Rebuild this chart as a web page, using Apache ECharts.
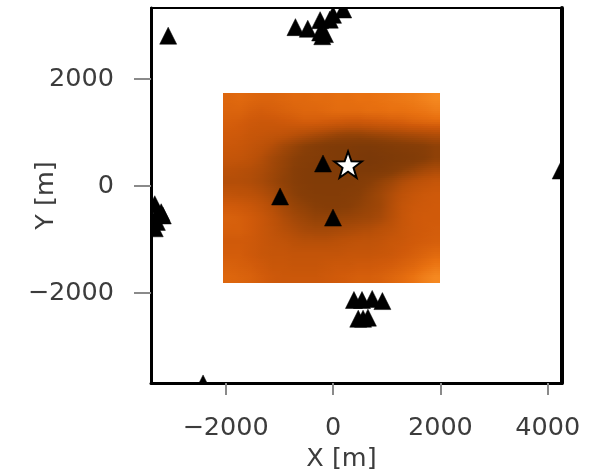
<!DOCTYPE html>
<html><head><meta charset="utf-8">
<script src="https://cdn.jsdelivr.net/npm/echarts@6/dist/echarts.min.js"></script>
<style>html,body{margin:0;background:#fff}#c{width:596px;height:474px;filter:blur(0.6px)}</style>
</head><body><div id="c"></div>
<script>
const xTicks=[-2000,0,2000,4000];
const yTicks=[-2000,0,2000];
const xRange=[-3390,4265];
const yRange=[-3682,3327];
const heatX=[-2040,2000];
const heatY=[-1819,1744];
const heatRows=[
[72,74,72,70,70,72,74,74,76,76,78,78,80,80,82,84,86,88,92,96],
[70,70,66,64,66,68,70,72,72,74,76,76,76,78,78,80,80,82,84,88],
[66,64,60,58,58,60,62,64,64,62,60,58,58,60,62,64,66,70,72,74],
[62,60,56,54,52,50,46,42,38,34,30,28,28,30,32,34,36,38,40,42],
[58,56,52,48,42,34,28,22,18,14,12,12,10,10,12,14,16,18,20,24],
[54,52,48,42,34,28,22,18,16,14,12,10,8,6,8,10,12,14,18,24],
[46,44,42,38,32,26,20,16,14,14,12,12,10,10,12,16,22,28,34,38],
[42,42,40,36,30,24,20,16,14,14,14,14,16,20,26,32,40,46,50,54],
[50,48,46,42,36,28,22,18,16,16,16,18,20,26,32,40,48,54,58,60],
[62,60,56,50,42,34,28,24,20,18,18,20,24,28,32,42,52,58,60,62],
[68,66,62,56,48,40,34,30,26,26,26,28,30,32,36,44,54,60,62,62],
[66,66,62,56,50,44,40,36,34,34,36,38,40,42,46,50,56,60,62,64],
[62,62,60,56,52,50,46,44,44,44,46,48,50,50,52,56,58,62,64,66],
[64,64,60,56,54,54,52,52,52,52,52,54,54,54,56,58,62,66,70,74],
[68,66,64,60,56,56,54,54,54,56,58,58,60,60,62,64,68,72,78,84],
[72,70,68,64,60,58,58,58,58,60,62,64,66,66,68,72,76,82,90,96]
];
const stationX=[-3070,-2420,-3320,-3260,-3200,-3170,-3280,-3320,
 -700,-470,-240,-200,-150,-60,0,190,-240,
 -186,-986,0,4240,
 390,540,730,920,470,560,650];
const stationY=[2800,-3700,-350,-500,-500,-560,-680,-800,
 2960,2930,2860,2790,2830,3100,3190,3290,3090,
 411,-205,-600,280,
 -2140,-2140,-2120,-2160,-2490,-2490,-2470];
const starX=[280];
const starY=[374];
const ramp=[[0,[116,54,8]],[.2,[135,62,7]],[.45,[185,80,8]],[.62,[208,90,10]],[.8,[232,112,16]],[1,[248,142,36]]];
function col(v){v=Math.max(0,v)/100;for(let i=1;i<ramp.length;i++){if(v<=ramp[i][0]){const a=ramp[i-1],b=ramp[i],t=(v-a[0])/(b[0]-a[0]);
 return 'rgb('+a[1].map((c,k)=>Math.round(c+(b[1][k]-c)*t)).join(',')+')';}}return 'rgb(248,142,36)';}
const nC=heatRows[0].length,nR=heatRows.length;
const cells=[];
heatRows.forEach((r,j)=>r.forEach((v,i)=>cells.push([i,j,v])));
const SLICES=6;
function at(fi,fj){
 const i=Math.max(0,Math.min(nC-1,fi)),j=Math.max(0,Math.min(nR-1,fj));
 const i0=Math.floor(i),j0=Math.floor(j),i1=Math.min(nC-1,i0+1),j1=Math.min(nR-1,j0+1),u=i-i0,w=j-j0;
 return (heatRows[j0][i0]*(1-u)+heatRows[j0][i1]*u)*(1-w)+(heatRows[j1][i0]*(1-u)+heatRows[j1][i1]*u)*w;
}
const hideAll={axisLabel:{show:false},axisTick:{show:false},splitLine:{show:false}};
const fmt=v=>String(v).replace('-','\u2212');
const chart=echarts.init(document.getElementById('c'),null,{renderer:'canvas'});
chart.setOption({
 animation:false,backgroundColor:'#fff',
 grid:{left:151,right:34,top:8,bottom:91,outerBoundsMode:'none'},
 xAxis:[{type:'value',min:xRange[0],max:xRange[1],position:'bottom',z:10,
  axisLine:{onZero:false,lineStyle:{color:'#000',width:3}},
  axisTick:{show:true,length:12,customValues:xTicks,lineStyle:{color:'#8a8a8a',width:2}},
  axisLabel:{customValues:xTicks,fontFamily:'DejaVu Sans',fontSize:25.5,color:'#3c3c3c',margin:32,formatter:fmt},
  splitLine:{show:false},
  name:'X [m]',nameLocation:'middle',nameGap:63,
  nameTextStyle:{fontFamily:'DejaVu Sans',fontSize:25.5,color:'#3c3c3c',padding:[0,30,0,0]}},
 {type:'value',min:xRange[0],max:xRange[1],position:'top',z:10,...hideAll,
  axisLine:{onZero:false,lineStyle:{color:'#000',width:2}}}],
 yAxis:[{type:'value',min:yRange[0],max:yRange[1],position:'left',z:10,
  axisLine:{onZero:false,lineStyle:{color:'#000',width:3}},
  axisTick:{show:true,length:17,customValues:yTicks,lineStyle:{color:'#8a8a8a',width:2}},
  axisLabel:{customValues:yTicks,fontFamily:'DejaVu Sans',fontSize:25.5,color:'#3c3c3c',margin:37,padding:[3,0,0,0],formatter:fmt},
  splitLine:{show:false},
  name:'Y [m]',nameLocation:'middle',nameGap:92,nameMoveOverlap:false,
  nameTextStyle:{fontFamily:'DejaVu Sans',fontSize:25.5,color:'#3c3c3c'}},
 {type:'value',min:yRange[0],max:yRange[1],position:'right',z:10,...hideAll,
  axisLine:{onZero:false,lineStyle:{color:'#000',width:4}}}],
 series:[
 {type:'custom',clip:true,z:2,data:cells,encode:{x:0,y:1},
  renderItem(p,api){
   const i=api.value(0),j=api.value(1);
   const dx=(heatX[1]-heatX[0])/nC,dy=(heatY[1]-heatY[0])/nR;
   const a=api.coord([heatX[0]+i*dx,heatY[1]-j*dy]);
   const b=api.coord([heatX[0]+(i+1)*dx,heatY[1]-(j+1)*dy]);
   const x0=Math.round(a[0]),x1=Math.round(b[0]);
   const h=(b[1]-a[1])/SLICES,children=[];
   for(let s=0;s<SLICES;s++){
    const fj=j-.5+(s+.5)/SLICES;
    const y0=Math.round(a[1]+s*h),y1=Math.round(a[1]+(s+1)*h);
    children.push({type:'rect',silent:true,
     shape:{x:x0,y:y0,width:x1-x0,height:y1-y0},
     style:{fill:new echarts.graphic.LinearGradient(0,0,1,0,[
      {offset:0,color:col(at(i-.5,fj))},{offset:.5,color:col(at(i,fj))},{offset:1,color:col(at(i+.5,fj))}])}});
   }
   return {type:'group',children};
  }},
 {type:'custom',clip:true,z:3,data:stationX.map((x,k)=>[x,stationY[k]]),encode:{x:0,y:1},
  renderItem(p,api){
   const c=api.coord([api.value(0),api.value(1)]);
   return {type:'polygon',shape:{points:[[c[0],c[1]-9],[c[0]+8.5,c[1]+8],[c[0]-8.5,c[1]+8]]},
    style:{fill:'#000',stroke:'#000',lineWidth:.5}};
  }},
 {type:'custom',clip:true,z:4,data:starX.map((x,k)=>[x,starY[k]]),encode:{x:0,y:1},
  renderItem(p,api){
   const c=api.coord([api.value(0),api.value(1)]);
   const pts=[];
   for(let k=0;k<10;k++){const R=k%2?5.8:14.5,t=-Math.PI/2+k*Math.PI/5;pts.push([c[0]+R*Math.cos(t),c[1]+R*Math.sin(t)]);}
   return {type:'polygon',shape:{points:pts},style:{fill:'#fff',stroke:'#000',lineWidth:2}};
  }}
 ]
});
</script></body></html>
